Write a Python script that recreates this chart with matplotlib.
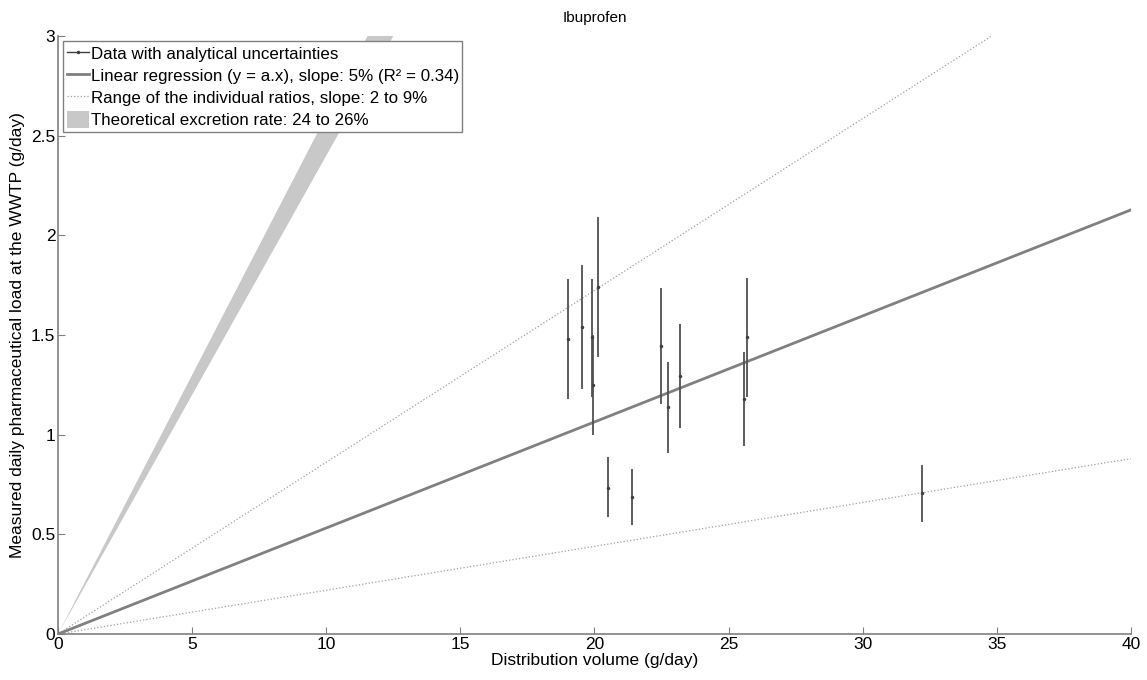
import numpy as np
import matplotlib.pyplot as plt
from matplotlib.lines import Line2D
from matplotlib.patches import Patch

plt.rcParams['font.family'] = ['Liberation Sans', 'DejaVu Sans']

# measured data (distribution volume vs measured load) with uncertainty bounds
volume = [19.0, 19.53, 19.9, 19.95, 20.14, 22.47, 22.75, 23.18, 25.58, 25.7, 20.49, 21.4, 32.2]
load = [1.48, 1.54, 1.49, 1.25, 1.74, 1.445, 1.137, 1.296, 1.179, 1.489, 0.734, 0.686, 0.706]
load_low = [1.18, 1.23, 1.19, 1.00, 1.39, 1.152, 0.907, 1.032, 0.943, 1.188, 0.586, 0.547, 0.564]
load_high = [1.78, 1.85, 1.78, 1.50, 2.09, 1.735, 1.363, 1.554, 1.417, 1.785, 0.887, 0.826, 0.848]

slope_fit = 0.0532
slope_min, slope_max = 0.022, 0.0862
excr_min, excr_max = 0.24, 0.26

x_ticks = [0, 5, 10, 15, 20, 25, 30, 35, 40]
y_ticks = [0, 0.5, 1, 1.5, 2, 2.5, 3]
y_ticklabels = ['0', '0.5', '1', '1.5', '2', '2.5', '3']

fig = plt.figure(figsize=(11.47, 6.8), dpi=100)
ax = fig.add_axes([0.0506, 0.0676, 0.9354, 0.8794])

xx = np.array([0, 40])

# theoretical excretion band
ax.fill_between(xx, excr_min * xx, excr_max * xx, color='#c8c8c8', linewidth=0)

# range of individual ratios
ax.plot(xx, slope_min * xx, ':', color='#a0a0a0', linewidth=0.9)
ax.plot(xx, slope_max * xx, ':', color='#a0a0a0', linewidth=0.9)

# linear regression
ax.plot(xx, slope_fit * xx, '-', color='#808080', linewidth=2)

# data with error bars
load = np.array(load)
yerr = [load - np.array(load_low), np.array(load_high) - load]
ax.errorbar(volume, load, yerr=yerr, fmt='.', color='#404040', ecolor='#505050',
            markersize=3, elinewidth=1.3, capsize=0)

ax.set_xlim(0, 40)
ax.set_ylim(0, 3)
ax.set_xticks(x_ticks)
ax.set_yticks(y_ticks)
ax.set_yticklabels(y_ticklabels)
ax.tick_params(direction='in', length=5, labelsize=12.5, color='#808080', pad=2)
for s in ['top', 'right']:
    ax.spines[s].set_visible(False)
for s in ['left', 'bottom']:
    ax.spines[s].set_color('#808080')
    ax.spines[s].set_linewidth(1.2)

ax.set_xlabel('Distribution volume (g/day)', fontsize=12.5, labelpad=1)
ax.set_ylabel('Measured daily pharmaceutical load at the WWTP (g/day)', fontsize=12.5, labelpad=4)
ax.set_title('Ibuprofen', fontsize=11, pad=10)

handles = [
    Line2D([], [], color='#404040', marker='.', markersize=3, linewidth=1),
    Line2D([], [], color='#808080', linewidth=2),
    Line2D([], [], color='#a0a0a0', linestyle=':', linewidth=0.9),
    Patch(facecolor='#c8c8c8', edgecolor='none'),
]
labels = [
    'Data with analytical uncertainties',
    'Linear regression (y = a.x), slope: 5% (R² = 0.34)',
    'Range of the individual ratios, slope: 2 to 9%',
    'Theoretical excretion rate: 24 to 26%',
]
leg = ax.legend(handles, labels, loc='upper left', fontsize=12.2, frameon=True,
                fancybox=False, edgecolor='#808080', framealpha=1,
                handlelength=1.3, handleheight=1.2, handletextpad=0.12, borderpad=0.2,
                labelspacing=0.28, borderaxespad=0.3)
leg.get_frame().set_linewidth(1)

fig.savefig('out.png', dpi=100)
